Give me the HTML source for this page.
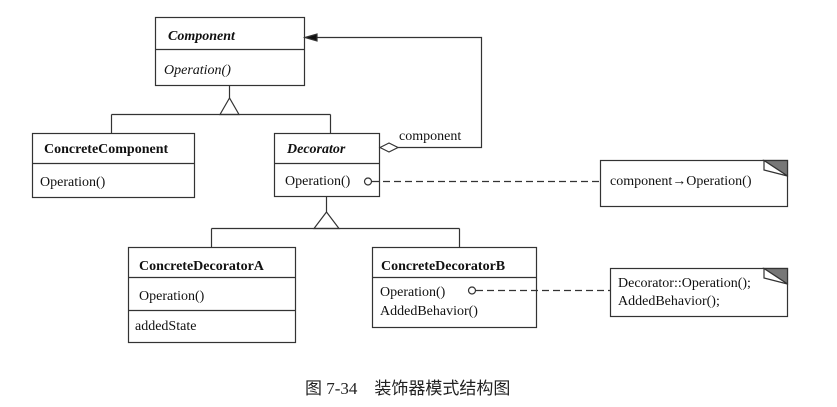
<!DOCTYPE html>
<html><head><meta charset="utf-8"><style>
html,body{margin:0;padding:0;background:#fff;}
svg{display:block;}
text{font-family:"Liberation Serif","Noto Serif CJK SC",serif;font-size:14px;fill:#111;}
.b{font-weight:bold;}
.bi{font-weight:bold;font-style:italic;}
.i{font-style:italic;}
.cn{font-family:"Liberation Serif","Noto Sans CJK SC",sans-serif;font-size:17px;fill:#222;}
</style></head><body>
<svg width="837" height="407" viewBox="0 0 837 407" xmlns="http://www.w3.org/2000/svg">
<g fill="none" stroke="#333" stroke-width="1.2">
<!-- Component -->
<rect x="155.5" y="17.5" width="149" height="68"/>
<line x1="155" y1="49.5" x2="304" y2="49.5"/>
<!-- ConcreteComponent -->
<rect x="32.5" y="133.5" width="162" height="64"/>
<line x1="32" y1="163.5" x2="194" y2="163.5"/>
<!-- Decorator -->
<rect x="274.5" y="133.5" width="105" height="63"/>
<line x1="274" y1="163.5" x2="379" y2="163.5"/>
<!-- inheritance 1 -->
<line x1="229.5" y1="85" x2="229.5" y2="98"/>
<path d="M229.5 98 L220 114.5 L239 114.5 Z" fill="#fff"/>
<line x1="111.5" y1="114.5" x2="330.5" y2="114.5"/>
<line x1="111.5" y1="114.5" x2="111.5" y2="133"/>
<line x1="330.5" y1="114.5" x2="330.5" y2="133"/>
<!-- aggregation -->
<path d="M380 147.5 L389 143 L398 147.5 L389 152 Z" fill="#fff"/>
<polyline points="398,147.5 481.5,147.5 481.5,37.5 314,37.5"/>
<path d="M305 37.5 L317 34 L317 41 Z" fill="#111"/>
<!-- note 1 -->
<circle cx="368" cy="181.5" r="3.5" fill="#fff"/>
<line x1="372" y1="181.5" x2="600" y2="181.5" stroke-dasharray="7,4"/>
<rect x="600.5" y="160.5" width="187" height="46"/>
<path d="M764 160.5 L787.5 160.5 L787.5 176 Z" fill="#777"/>
<path d="M764 160.5 L764 170 L787.5 176 Z" fill="#fff"/>
<!-- inheritance 2 -->
<line x1="326.5" y1="196" x2="326.5" y2="212"/>
<path d="M326.5 212 L314 228.5 L339 228.5 Z" fill="#fff"/>
<line x1="211.5" y1="228.5" x2="459.5" y2="228.5"/>
<line x1="211.5" y1="228.5" x2="211.5" y2="247"/>
<line x1="459.5" y1="228.5" x2="459.5" y2="247"/>
<!-- CDA -->
<rect x="128.5" y="247.5" width="167" height="95"/>
<line x1="128" y1="277.5" x2="295" y2="277.5"/>
<line x1="128" y1="310.5" x2="295" y2="310.5"/>
<!-- CDB -->
<rect x="372.5" y="247.5" width="164" height="80"/>
<line x1="372" y1="277.5" x2="536" y2="277.5"/>
<!-- note 2 -->
<circle cx="472" cy="290.5" r="3.5" fill="#fff"/>
<line x1="476" y1="290.5" x2="610" y2="290.5" stroke-dasharray="7,4"/>
<rect x="610.5" y="268.5" width="177" height="48"/>
<path d="M764 268.5 L787.5 268.5 L787.5 284 Z" fill="#777"/>
<path d="M764 268.5 L764 278 L787.5 284 Z" fill="#fff"/>
</g>
<text x="168" y="40" class="bi">Component</text>
<text x="164" y="74" class="i">Operation()</text>
<text x="44" y="153" class="b">ConcreteComponent</text>
<text x="40" y="186">Operation()</text>
<text x="287" y="153" class="bi">Decorator</text>
<text x="285" y="185">Operation()</text>
<text x="399" y="140">component</text>
<text x="610" y="185">component→Operation()</text>
<text x="139" y="270" class="b">ConcreteDecoratorA</text>
<text x="139" y="300">Operation()</text>
<text x="135" y="330">addedState</text>
<text x="381" y="270" class="b">ConcreteDecoratorB</text>
<text x="380" y="296">Operation()</text>
<text x="380" y="315">AddedBehavior()</text>
<text x="618" y="287">Decorator::Operation();</text>
<text x="618" y="305">AddedBehavior();</text>
<text x="305" y="394" class="cn">图 7-34　装饰器模式结构图</text>
</svg>
</body></html>
